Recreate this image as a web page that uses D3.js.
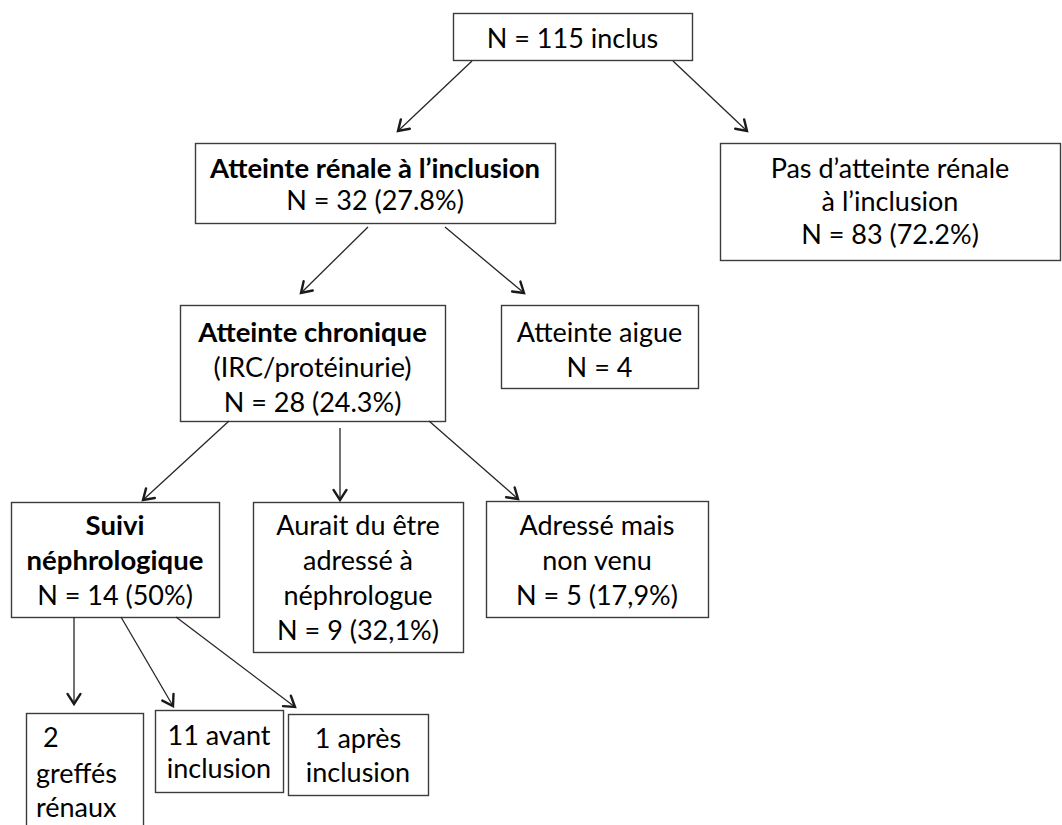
<!DOCTYPE html>
<html><head><meta charset="utf-8">
<script src="https://cdn.jsdelivr.net/npm/d3@7"></script>
<style>html,body{margin:0;padding:0;background:#fff;}svg{display:block;}</style>
</head><body>
<svg id="chart" width="1062" height="825"></svg>
<script>
// ---- data (labels of the flowchart) ----
const nodeIds = ["top","renal","pas","chron","aigue","suivi","aurait","adresse","greffes","avant","apres"];
const nodeLines = {
  top:     ["N = 115 inclus"],
  renal:   ["Atteinte rénale à l’inclusion", "N = 32 (27.8%)"],
  pas:     ["Pas d’atteinte rénale", "à l’inclusion", "N = 83 (72.2%)"],
  chron:   ["Atteinte chronique", "(IRC/protéinurie)", "N = 28 (24.3%)"],
  aigue:   ["Atteinte aigue", "N = 4"],
  suivi:   ["Suivi", "néphrologique", "N = 14 (50%)"],
  aurait:  ["Aurait du être", "adressé à", "néphrologue", "N = 9 (32,1%)"],
  adresse: ["Adressé mais", "non venu", "N = 5 (17,9%)"],
  greffes: ["\u00a02", "greffés", "rénaux"],
  avant:   ["11 avant", "inclusion"],
  apres:   ["1 après", "inclusion"]
};
const boldLines = ["Atteinte rénale à l’inclusion", "Atteinte chronique", "Suivi", "néphrologique"];
const edges = [
  ["top","renal"],["top","pas"],
  ["renal","chron"],["renal","aigue"],
  ["chron","suivi"],["chron","aurait"],["chron","adresse"],
  ["suivi","greffes"],["suivi","avant"],["suivi","apres"]
];

// ---- layout (positions only) ----
const boxLayout = {
  top:     {x:453, y:13,  w:239, h:47,  base:[48]},
  renal:   {x:195, y:143, w:360, h:80,  base:[178,210]},
  pas:     {x:720, y:143, w:340, h:117, base:[178,211,244]},
  chron:   {x:180, y:305, w:265, h:116, base:[342,377,412]},
  aigue:   {x:501, y:305, w:197, h:83,  base:[342,377]},
  suivi:   {x:11,  y:502, w:208, h:115, base:[535,570,605]},
  aurait:  {x:253, y:502, w:210, h:150, base:[535,570,605,640]},
  adresse: {x:486, y:501, w:222, h:116, base:[535,570,605]},
  greffes: {x:26,  y:713, w:117, h:130, base:[747,783,817], align:"start", tx:36},
  avant:   {x:155, y:710, w:128, h:82,  base:[745,778]},
  apres:   {x:288, y:714, w:140, h:81,  base:[748,782]}
};
const edgeLayout = [
  {x1:472,y1:61, x2:398,y2:131},
  {x1:673,y1:61, x2:747,y2:131},
  {x1:368,y1:227,x2:301,y2:293},
  {x1:445,y1:227,x2:524,y2:293},
  {x1:229,y1:421,x2:143,y2:500},
  {x1:340,y1:428,x2:340,y2:500},
  {x1:429,y1:421,x2:518,y2:499},
  {x1:74, y1:617,x2:74, y2:704},
  {x1:121,y1:617,x2:173,y2:706},
  {x1:176,y1:617,x2:295,y2:707}
];

const svg = d3.select("#chart");
const FONT = "Lato, 'Open Sans', sans-serif";
const FS = 27, FSB = 27.5;

// boxes
const g = svg.append("g");
const nodes = g.selectAll("g.node").data(nodeIds).join("g").attr("class","node");
nodes.append("rect")
  .attr("x", d => boxLayout[d].x + 0.5)
  .attr("y", d => boxLayout[d].y + 0.5)
  .attr("width", d => boxLayout[d].w)
  .attr("height", d => boxLayout[d].h)
  .attr("fill", "#fff")
  .attr("stroke", "#3c3c3c")
  .attr("stroke-width", 1.4);

nodes.each(function(id){
  const L = boxLayout[id];
  const sel = d3.select(this);
  nodeLines[id].forEach((t, i) => {
    const bold = boldLines.includes(t);
    sel.append("text")
      .attr("x", L.align === "start" ? L.tx : L.x + L.w / 2)
      .attr("y", L.base[i])
      .attr("text-anchor", L.align === "start" ? "start" : "middle")
      .attr("font-family", FONT)
      .attr("font-size", bold ? FSB : FS)
      .attr("font-weight", bold ? 700 : 400)
      .attr("fill", "#000")
      .text(t);
  });
});

// arrows
const arrows = svg.append("g");
edges.forEach((e, i) => {
  const p = edgeLayout[i];
  arrows.append("line")
    .attr("x1", p.x1).attr("y1", p.y1).attr("x2", p.x2).attr("y2", p.y2)
    .attr("stroke", "#262626").attr("stroke-width", 1.3);
  const ang = Math.atan2(p.y2 - p.y1, p.x2 - p.x1);
  const len = 12, spread = Math.PI / 5.5;
  const a1 = ang + Math.PI - spread, a2 = ang + Math.PI + spread;
  const path = d3.path();
  path.moveTo(p.x2 + len * Math.cos(a1), p.y2 + len * Math.sin(a1));
  path.lineTo(p.x2, p.y2);
  path.lineTo(p.x2 + len * Math.cos(a2), p.y2 + len * Math.sin(a2));
  arrows.append("path").attr("d", path.toString())
    .attr("fill", "none").attr("stroke", "#1a1a1a").attr("stroke-width", 2.4)
    .attr("stroke-linejoin", "miter").attr("stroke-linecap", "round");
});
</script>
</body></html>
